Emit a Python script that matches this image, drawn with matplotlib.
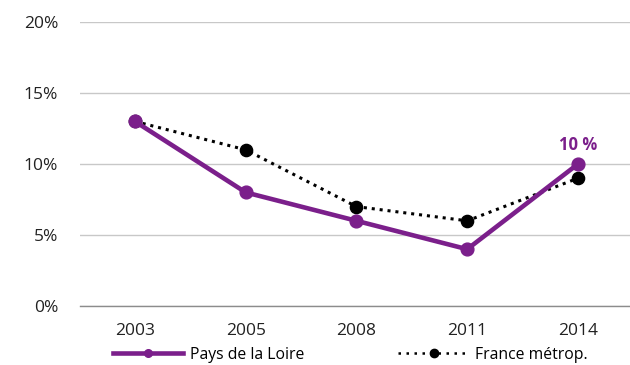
import matplotlib
matplotlib.use("Agg")
import matplotlib.pyplot as plt
from matplotlib.lines import Line2D

plt.rcParams['font.family'] = ['Open Sans', 'DejaVu Sans']

years = ["2003", "2005", "2008", "2011", "2014"]
pays_loire = [13, 8, 6, 4, 10]
france = [13, 11, 7, 6, 9]
y_ticks = [0, 5, 10, 15, 20]
purple = "#7b1f8b"

fig = plt.figure(figsize=(6.3, 3.65), dpi=100)
ax = fig.add_axes([0.1263, 0.1616, 0.879, 0.7781])
x = list(range(len(years)))

dots = (0, (1, 1.6))
ax.plot(x, france, color="black", linestyle=dots, linewidth=2.2,
        marker="o", markersize=8.8, zorder=3)
ax.plot(x, pays_loire, color=purple, linewidth=3.3,
        marker="o", markersize=9.2, zorder=4)

ax.annotate(f"{pays_loire[-1]} %", (x[-1], pays_loire[-1]), xytext=(0, 7),
            textcoords="offset points", ha="center", va="bottom",
            color=purple, fontweight="bold", fontsize=12)

ax.set_xlim(-0.5, len(years) - 0.5)
ax.set_ylim(0, 20)
ax.set_yticks(y_ticks)
ax.set_yticklabels([f"{v}%" for v in y_ticks])
ax.set_xticks(x)
ax.set_xticklabels(years)
ax.tick_params(axis="both", length=0, labelsize=12.5, colors="#222222")
ax.tick_params(axis="y", pad=15.5)
ax.tick_params(axis="x", pad=12)
ax.grid(axis="y", color="#c8c8c8", linewidth=1)
ax.set_axisbelow(True)
for s in ["top", "right", "left"]:
    ax.spines[s].set_visible(False)
ax.spines["bottom"].set_color("#8c8c8c")
ax.spines["bottom"].set_linewidth(1)

h1 = Line2D([], [], color=purple, linewidth=3.3, marker="o", markersize=5.5)
h2 = Line2D([], [], color="black", linestyle=(0, (1, 2.2)), linewidth=1.8,
            marker="o", markersize=6)
fig.legend([h1, h2], ["Pays de la Loire", "France métrop."], ncol=2,
           loc="center left", bbox_to_anchor=(0.179, 0.028), frameon=False,
           fontsize=11.3, handlelength=4.5, handletextpad=0.4,
           columnspacing=6.0, borderaxespad=0, borderpad=0)

fig.savefig("out.png", dpi=100)
